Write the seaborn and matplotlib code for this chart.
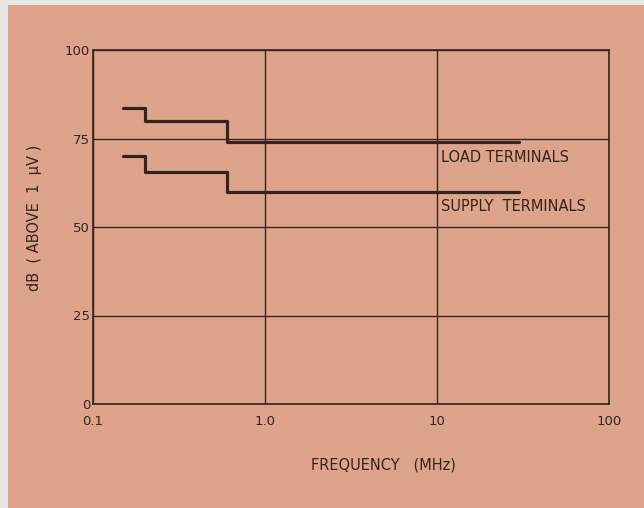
import numpy as np
import pandas as pd
import matplotlib
matplotlib.use("Agg")
import matplotlib.pyplot as plt
import seaborn as sns

# step limits
freq_mhz = [0.15, 0.2, 0.6, 30]
load_db = [83.5, 80, 74, 74]
supply_db = [70, 65.5, 60, 60]

x_ticks = [0.1, 1, 10, 100]
x_labels = ["0.1", "1.0", "10", "100"]
y_ticks = [0, 25, 50, 75, 100]

paper = "#dea48b"
ink = "#35241c"

sns.set_style("white")
plt.rcParams["font.family"] = ["DejaVu Sans"]

df = pd.concat([
    pd.DataFrame({"freq": freq_mhz, "db": load_db, "port": "load"}),
    pd.DataFrame({"freq": freq_mhz, "db": supply_db, "port": "supply"}),
])

fig = plt.figure(figsize=(6.44, 5.08), dpi=100)
fig.patch.set_facecolor("#e8e6e4")
fig.patches.append(plt.Rectangle((8 / 644, 0), 1, 1 - 5 / 508, transform=fig.transFigure,
                                 facecolor=paper, edgecolor="none", zorder=-10))

ax = fig.add_axes([93 / 644, 1 - 404 / 508, (609 - 93) / 644, (404 - 50) / 508])
ax.set_facecolor(paper)

sns.lineplot(data=df, x="freq", y="db", units="port", estimator=None, color=ink,
             lw=2.3, drawstyle="steps-post", ax=ax, zorder=3)

ax.set_xscale("log")
ax.set_xlim(0.1, 100)
ax.set_ylim(0, 100)
ax.set_xticks(x_ticks)
ax.set_xticklabels(x_labels)
ax.set_yticks(y_ticks)
ax.minorticks_off()
ax.tick_params(length=0, labelsize=9.5, colors=ink, pad=8)
ax.tick_params(axis="y", pad=2)
ax.grid(True, color=ink, lw=1.0)
for s in ax.spines.values():
    s.set_color(ink)
    s.set_linewidth(1.2)
ax.set_xlabel("")
ax.set_ylabel("")

ax.text(10.6, load_db[-1] - 2.2, "LOAD TERMINALS", fontsize=10.5, color=ink, va="top", ha="left")
ax.text(10.6, supply_db[-1] - 2.2, "SUPPLY  TERMINALS", fontsize=10.5, color=ink, va="top", ha="left")

fig.text(383 / 644, 1 - 465 / 508, "FREQUENCY   (MHz)", fontsize=10.5, color=ink, ha="center", va="center")
fig.text(35 / 644, 1 - 218 / 508, "dB  ( ABOVE  1  μV )", fontsize=10.5, color=ink, rotation=90,
         ha="center", va="center")

fig.savefig("out.png", dpi=100, facecolor=fig.get_facecolor())
